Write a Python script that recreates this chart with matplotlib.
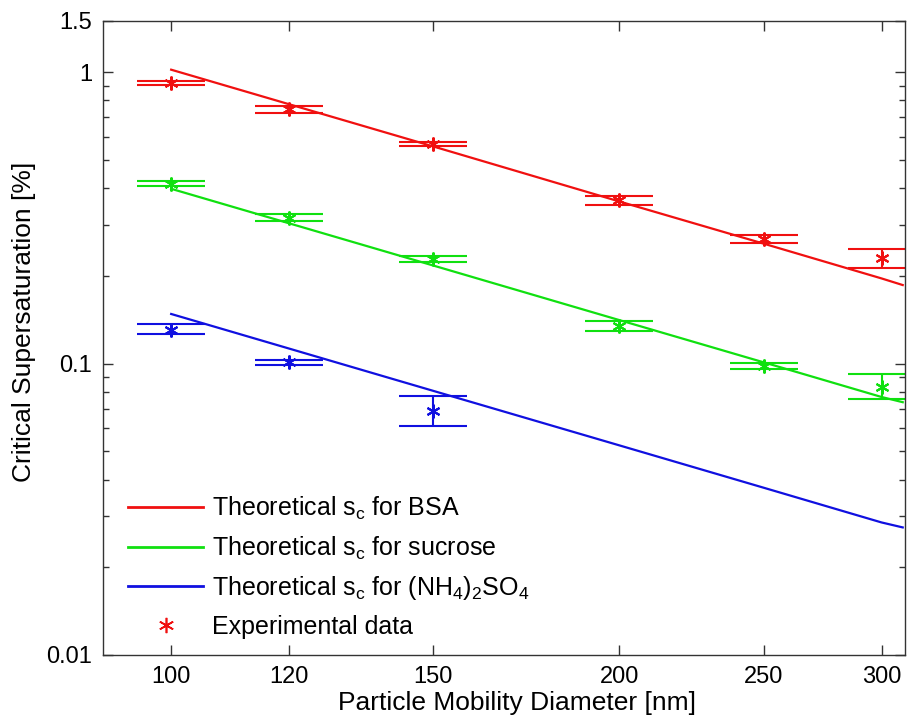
import matplotlib
matplotlib.use("Agg")
import matplotlib.pyplot as plt
import numpy as np
from matplotlib.ticker import FixedLocator, NullLocator, LogLocator, FixedFormatter
from matplotlib.lines import Line2D

plt.rcParams['font.family'] = ['Liberation Sans', 'DejaVu Sans']
plt.rcParams['mathtext.fontset'] = 'custom'
plt.rcParams['mathtext.rm'] = 'Liberation Sans'
plt.rcParams['mathtext.it'] = 'Liberation Sans'

# ---- data ----
diam = [100, 120, 150, 200, 250, 300]
bsa_exp = [0.920, 0.745, 0.567, 0.364, 0.2685, 0.2305]
bsa_lo = [0.904, 0.726, 0.560, 0.351, 0.2586, 0.2130]
bsa_hi = [0.935, 0.763, 0.574, 0.377, 0.2764, 0.2474]
suc_exp = [0.4145, 0.317, 0.229, 0.1345, 0.098, 0.0834]
suc_lo = [0.408, 0.3086, 0.2239, 0.1295, 0.0959, 0.0757]
suc_hi = [0.422, 0.3252, 0.2348, 0.1397, 0.1002, 0.0922]
diam_as = [100, 120, 150]
as_exp = [0.1308, 0.101, 0.069]
as_lo = [0.1264, 0.099, 0.0611]
as_hi = [0.1364, 0.1032, 0.0772]

th_diam = [100, 150, 200, 250, 300, 310]
bsa_th = [1.02, 0.556, 0.360, 0.258, 0.196, 0.186]
suc_th = [0.398, 0.217, 0.141, 0.101, 0.0768, 0.0737]
as_th = [0.148, 0.0806, 0.0524, 0.0375, 0.0285, 0.0274]

xticks = [100, 120, 150, 200, 250, 300]
yticks = [0.01, 0.1, 1, 1.5]
ytick_labels = ['0.01', '0.1', '1', '1.5']

RED = '#f01010'
GREEN = '#10e010'
BLUE = '#1010e0'

fig = plt.figure(figsize=(9.07, 7.2), dpi=100)
ax = fig.add_axes([0.1136, 0.0903, 0.884, 0.8807])

def eb(x, y, lo, hi, c):
    y = np.array(y); lo = np.array(lo); hi = np.array(hi)
    ax.errorbar(x, y, yerr=[y - lo, hi - y], fmt='none', ecolor=c,
                elinewidth=1.5, capsize=24.5, capthick=1.5, zorder=2)
    ax.plot(x, y, linestyle='none', marker=(6, 2, 0), markersize=10,
            markeredgewidth=1.5, color=c, zorder=3)

ax.plot(th_diam, bsa_th, color=RED, lw=1.6, zorder=2)
ax.plot(th_diam, suc_th, color=GREEN, lw=1.6, zorder=2)
ax.plot(th_diam, as_th, color=BLUE, lw=1.6, zorder=2)
eb(diam, bsa_exp, bsa_lo, bsa_hi, RED)
eb(diam, suc_exp, suc_lo, suc_hi, GREEN)
eb(diam_as, as_exp, as_lo, as_hi, BLUE)

ax.set_xscale('log')
ax.set_yscale('log')
ax.set_xlim(90, 311)
ax.set_ylim(0.01, 1.5)

ax.xaxis.set_major_locator(FixedLocator(xticks))
ax.xaxis.set_major_formatter(FixedFormatter([str(t) for t in xticks]))
ax.xaxis.set_minor_locator(NullLocator())
ax.yaxis.set_major_locator(FixedLocator(yticks))
ax.yaxis.set_major_formatter(FixedFormatter(ytick_labels))
ax.yaxis.set_minor_locator(LogLocator(base=10, subs=np.arange(2, 10)))

ax.tick_params(which='both', direction='in', top=True, right=True,
               labelsize=17, width=1.0, color='#333333')
ax.tick_params(which='major', length=7, pad=8)
ax.tick_params(which='minor', length=4)
for s in ax.spines.values():
    s.set_linewidth(1.0)
    s.set_color('#333333')

ax.set_xlabel('Particle Mobility Diameter [nm]', fontsize=19)
ax.set_ylabel('Critical Supersaturation [%]', fontsize=19)
ax.xaxis.set_label_coords(0.516, -0.057)
ax.yaxis.set_label_coords(-0.0835, 0.525)

handles = [
    Line2D([], [], color=RED, lw=2),
    Line2D([], [], color=GREEN, lw=2),
    Line2D([], [], color=BLUE, lw=2),
    Line2D([], [], color=RED, marker=(6, 2, 0), markersize=11,
           markeredgewidth=1.2, linestyle='none'),
]
labels = [
    r'Theoretical s$_\mathregular{c}$ for BSA',
    r'Theoretical s$_\mathregular{c}$ for sucrose',
    r'Theoretical s$_\mathregular{c}$ for (NH$_\mathregular{4}$)$_\mathregular{2}$SO$_\mathregular{4}$',
    'Experimental data',
]
ax.legend(handles, labels, loc='lower left', bbox_to_anchor=(0.011, 0.0),
          frameon=False, fontsize=18, handlelength=3.0, handletextpad=0.35,
          labelspacing=0.5, borderaxespad=0.25)

fig.savefig('out.png', dpi=100)
